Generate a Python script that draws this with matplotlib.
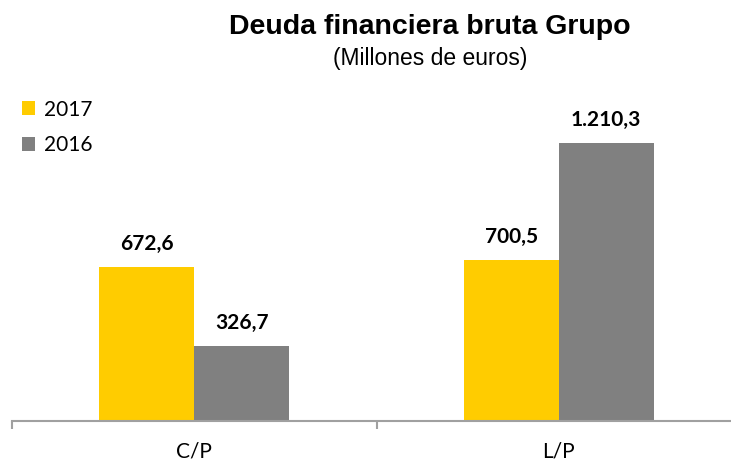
import matplotlib
matplotlib.use("Agg")
import matplotlib.pyplot as plt
import numpy as np

categories = ["C/P", "L/P"]
series_names = ["2017", "2016"]
values_2017 = [672.6, 700.5]
values_2016 = [326.7, 1210.3]
labels_2017 = ["672,6", "700,5"]
labels_2016 = ["326,7", "1.210,3"]

colors = ["#FFCC00", "#808080"]
label_font = ["Lato", "DejaVu Sans"]

W, H = 731, 462
fig = plt.figure(figsize=(W / 100, H / 100), dpi=100)
ax_bottom_px = 421
ax_left_px = 12
ax_right_px = 741
ymax = 1400
px_per_unit = 278 / 1210.3
ax_h_px = ymax * px_per_unit
ax = fig.add_axes([ax_left_px / W, (H - ax_bottom_px) / H,
                   (ax_right_px - ax_left_px) / W, ax_h_px / H])

x = np.arange(len(categories))
bw = 0.26
b1 = ax.bar(x - bw / 2, values_2017, bw, color=colors[0], label=series_names[0])
b2 = ax.bar(x + bw / 2, values_2016, bw, color=colors[1], label=series_names[1])

for bars, labs in ((b1, labels_2017), (b2, labels_2016)):
    for rect, lab in zip(bars, labs):
        ax.annotate(lab, (rect.get_x() + rect.get_width() / 2, rect.get_height()),
                    xytext=(0, 16.5), textcoords="offset points", ha="center", va="center",
                    fontsize=15, fontweight="bold", family=label_font, color="#000000")

ax.set_xlim(-0.5, 1.5)
ax.set_ylim(0, ymax)
for s in ("top", "right", "left"):
    ax.spines[s].set_visible(False)
ax.spines["bottom"].set_color("#A0A0A0")
ax.spines["bottom"].set_linewidth(1.5)
ax.set_yticks([])
ax.set_xticks([-0.5, 0.5, 1.5])
ax.set_xticklabels([])
ax.tick_params(axis="x", which="major", length=6, width=1.5, color="#A0A0A0")
ax.set_xticks(x, minor=True)
ax.set_xticklabels(categories, minor=True, fontsize=15, family=label_font)
ax.tick_params(axis="x", which="minor", length=0, pad=15)

fig.text(430 / W, 1 - 27 / H, "Deuda financiera bruta Grupo", ha="center", va="center",
         fontsize=20.5, fontweight="bold", family=["Liberation Sans", "DejaVu Sans"])
fig.text(430 / W, 1 - 59 / H, "(Millones de euros)", ha="center", va="center",
         fontsize=16.5, family=["Liberation Sans", "DejaVu Sans"])

leg = fig.legend(handles=[b1, b2], labels=series_names, loc="upper left",
                 bbox_to_anchor=(3 / W, 1 - 81 / H), frameon=False,
                 prop={"family": label_font, "size": 15},
                 handlelength=0.65, handleheight=0.65, handletextpad=0.4,
                 labelspacing=0.75)

fig.savefig("out.png", dpi=100)
